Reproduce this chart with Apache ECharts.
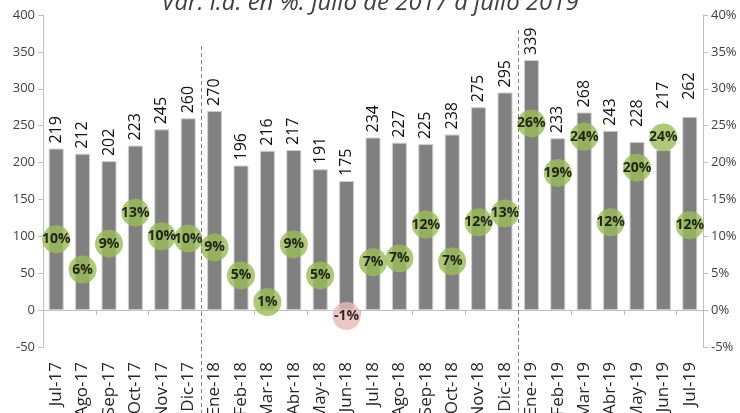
<!DOCTYPE html>
<html><head><meta charset="utf-8">
<script src="https://cdn.jsdelivr.net/npm/echarts@6/dist/echarts.min.js"></script>
<style>html,body{margin:0;padding:0;background:#fff}#c{width:740px;height:413px}</style>
</head><body><div id="c"></div>
<script>
const months = ['Jul-17','Ago-17','Sep-17','Oct-17','Nov-17','Dic-17','Ene-18','Feb-18','Mar-18','Abr-18','May-18','Jun-18','Jul-18','Ago-18','Sep-18','Oct-18','Nov-18','Dic-18','Ene-19','Feb-19','Mar-19','Abr-19','May-19','Jun-19','Jul-19'];
const values = [219,212,202,223,245,260,270,196,216,217,191,175,234,227,225,238,275,295,339,233,268,243,228,217,262];
const pctValues = [9.6,5.5,9.0,13.2,10.0,9.7,8.5,4.7,1.1,8.9,4.7,-0.8,6.5,7.0,11.6,6.6,11.9,13.1,25.3,18.6,23.5,11.9,19.3,23.4,11.5];
const pctLabels = ['10%','6%','9%','13%','10%','10%','9%','5%','1%','9%','5%','-1%','7%','7%','12%','7%','12%','13%','26%','19%','24%','12%','20%','24%','12%'];
const leftTicks = {min:-50,max:400,interval:50};
const rightTicks = {min:-5,max:40,interval:5};
const titleText = 'Var. i.a. en %. Julio de 2017 a julio 2019';
const separators = [5, 17]; // separator after these category indices

// style: extra lift of some bar labels (moved manually in the original)
const labelLift = {22: 10, 23: 36, 24: 12};

const FONT = '"Open Sans", sans-serif';
const chart = echarts.init(document.getElementById('c'), null, {renderer:'canvas'});
const barLabel = {show:true,position:'top',rotate:90,align:'left',verticalAlign:'middle',distance:5,
  fontSize:16,color:'#111',fontFamily:FONT};
const option = {
  animation:false,
  backgroundColor:'#fff',
  title:{text:titleText,left:'center',top:-14,textStyle:{fontFamily:FONT,fontSize:24,fontStyle:'italic',fontWeight:'normal',color:'#404040'}},
  grid:{left:43,right:37,top:15,bottom:66,outerBoundsMode:'none',containLabel:false},
  xAxis:[
    {type:'category',data:months,axisLine:{onZero:true,lineStyle:{color:'#BFBFBF',width:1}},
     axisTick:{show:true,length:5,lineStyle:{color:'#BFBFBF'}},axisLabel:{show:false}},
    {type:'category',data:months,position:'bottom',axisLine:{show:false},axisTick:{show:false},
     axisLabel:{rotate:90,fontSize:17,color:'#262626',fontFamily:FONT,margin:15,interval:0}}
  ],
  yAxis:[
    {type:'value',min:leftTicks.min,max:leftTicks.max,interval:leftTicks.interval,
     axisLine:{show:true,lineStyle:{color:'#BFBFBF'}},axisTick:{show:true,length:5,lineStyle:{color:'#BFBFBF'}},
     splitLine:{show:false},axisLabel:{fontSize:13,color:'#404040',fontFamily:FONT,margin:8}},
    {type:'value',min:rightTicks.min,max:rightTicks.max,interval:rightTicks.interval,position:'right',
     axisLine:{show:true,lineStyle:{color:'#BFBFBF'}},axisTick:{show:true,length:5,lineStyle:{color:'#BFBFBF'}},
     splitLine:{show:false},axisLabel:{fontSize:13,color:'#404040',fontFamily:FONT,margin:8,formatter:'{value}%'}}
  ],
  series:[
    {type:'bar',xAxisIndex:0,yAxisIndex:0,barWidth:15,
     data:values.map((v,i)=>labelLift[i]?{value:v,label:{distance:5+labelLift[i]}}:v),
     itemStyle:{color:'#808080',borderColor:'#D0D0D0',borderWidth:1},
     label:barLabel,labelLayout:{hideOverlap:false}},
    {type:'scatter',data:pctValues.map((v,i)=>({value:v,itemStyle:{color: v<0?'#E6B9B8':'#9BBB59'}})),
     xAxisIndex:0,yAxisIndex:1,symbolSize:28,z:5,
     label:{show:true,position:'inside',fontSize:14,fontWeight:'bold',color:'#000',fontFamily:FONT,
       formatter:p=>pctLabels[p.dataIndex]}}
  ]
};
chart.setOption(option);
const gfx = separators.map((idx,k)=>{
  const x1 = chart.convertToPixel({xAxisIndex:0}, idx);
  const x2 = chart.convertToPixel({xAxisIndex:0}, idx+1);
  const x = Math.round((x1+x2)/2)+0.5;
  const topY = k===0 ? 46 : 30;
  return {type:'line',shape:{x1:x,y1:topY,x2:x,y2:413},style:{stroke:'#808080',lineWidth:1,lineDash:[4,3]},z:10};
});
chart.setOption({graphic:gfx});
</script></body></html>
